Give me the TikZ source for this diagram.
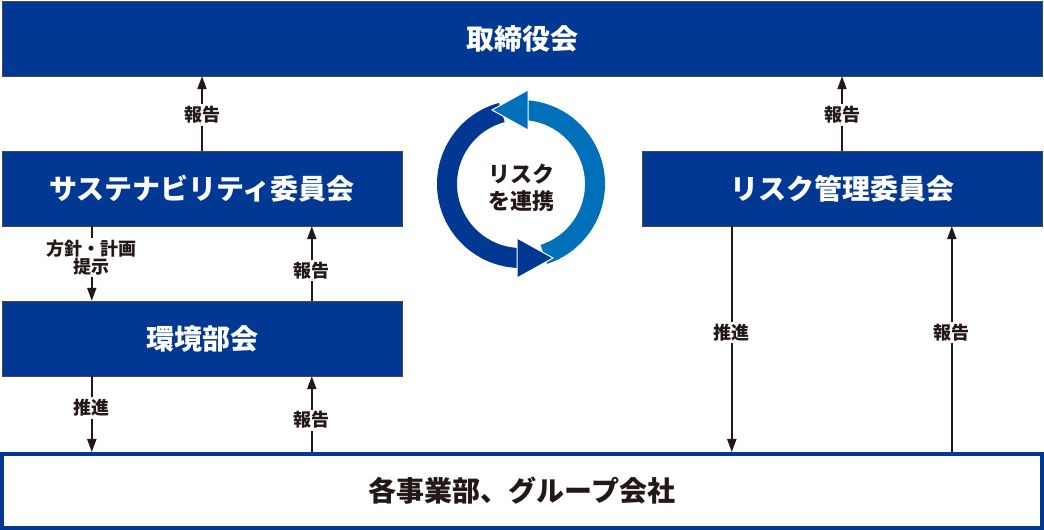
\documentclass[tikz,border=0pt]{standalone}
\usepackage{fontspec}
\setmainfont{Noto Sans CJK JP}
\usepackage{xcolor}
\usepackage{tikz}
\usetikzlibrary{calc,arrows.meta,positioning}
\definecolor{navy}{HTML}{003893}
\definecolor{skyblue}{HTML}{0070BA}
\definecolor{inkblack}{HTML}{231815}

\begin{document}
\begin{tikzpicture}[x=1pt, y=1pt,
    panel/.style={draw=inkblack!80, thin, fill=navy, text=white, font=\fontsize{28}{32}\selectfont\bfseries, minimum height=75pt, inner sep=0pt},
    flow/.style={draw=inkblack, line width=2pt, -{Triangle[width=9pt, length=13pt]}},
    tag/.style={fill=white, text=inkblack, font=\fontsize{18}{21}\selectfont\bfseries, inner sep=2pt, align=center}
]
\useasboundingbox (0,0) rectangle (1044,530);

% Board of directors
\node[panel, minimum width=1040pt] (board) at (522,491.5) {取締役会};

% Committees
\node[panel, minimum width=400pt] (sus) at (202,341.5) {サステナビリティ委員会};
\node[panel, minimum width=400pt] (risk) at (842,341.5) {リスク管理委員会};
\node[panel, minimum width=400pt] (env) at (202,191.5) {環境部会};

% Business units and group companies
\node[draw=navy, line width=4pt, fill=white, text=inkblack, font=\fontsize{28}{32}\selectfont\bfseries, minimum width=1040pt, minimum height=74pt, inner sep=0pt] (units) at (522,39) {各事業部、グループ会社};

% Arrow columns
\coordinate (susL) at ([xshift=90pt]sus.south west);
\coordinate (susR) at ([xshift=310pt]sus.south west);
\coordinate (riskL) at ([xshift=90pt]risk.south west);
\coordinate (riskR) at ([xshift=310pt]risk.south west);

% Reporting lines
\draw[flow] (sus.north) -- node[tag, pos=0.48] {報告} (board.south -| sus.north);
\draw[flow] (risk.north) -- node[tag, pos=0.48] {報告} (board.south -| risk.north);
\draw[flow] (susL) -- node[tag, pos=0.42] {方針・計画\\[-3pt]提示} (env.north -| susL);
\draw[flow] (env.north -| susR) -- node[tag, pos=0.41] {報告} (susR);
\draw[flow] (env.south -| susL) -- node[tag, pos=0.42] {推進} (units.north -| susL);
\draw[flow] (units.north -| susR) -- node[tag, pos=0.42] {報告} (env.south -| susR);
\draw[flow] (riskL) -- node[tag, pos=0.47] {推進} (units.north -| riskL);
\draw[flow] (units.north -| riskR) -- node[tag, pos=0.53] {報告} (riskR);

% Risk cooperation cycle
\coordinate (hub) at (521,346);
\node[text=inkblack, font=\fontsize{22}{27}\selectfont\bfseries, align=center] (link) at ([yshift=-4pt]hub) {リスク\\を連携};
\draw[navy, line width=20pt] ($(hub)+(105:74)$) arc[start angle=105, end angle=270, radius=74];
\draw[skyblue, line width=20pt] ($(hub)+(-72:74)$) arc[start angle=-72, end angle=86, radius=74];
\fill[navy, draw=white, line width=1pt] ($(hub)+(-4,-54)$) -- ($(hub)+(32,-74)$) -- ($(hub)+(-4,-94)$) -- cycle;
\fill[skyblue, draw=white, line width=1pt] ($(hub)+(7,94)$) -- ($(hub)+(-29,74)$) -- ($(hub)+(7,54)$) -- cycle;

\end{tikzpicture}
\end{document}
